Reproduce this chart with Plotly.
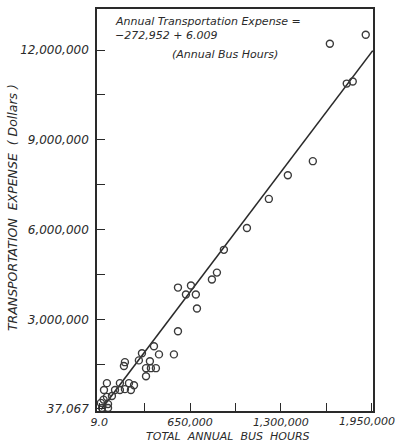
import plotly.graph_objects as go

# Observed points (annual bus hours, annual transportation expense in dollars)
bus_hours = [
    1651000, 1908000, 1772000, 1815000, 1529000, 1350000, 1214000, 1057000,
    892000, 842000, 806000, 563000, 656000, 620000, 691000, 699000, 563000,
    391000, 305000, 427000, 534000, 283000, 362000, 183000, 176000, 334000,
    369000, 405000, 334000,
    54000, 147000, 212000, 248000, 33000, 112000, 183000, 226000, 147000,
    54000, 90000, 11000, 62000, 19000, 30000, 62000,
]
expense = [
    12210000, 12510000, 10880000, 10950000, 8290000, 7820000, 7030000, 6060000,
    5330000, 4570000, 4340000, 4070000, 4140000, 3840000, 3840000, 3370000, 2610000,
    2110000, 1880000, 1840000, 1840000, 1640000, 1610000, 1580000, 1450000, 1380000,
    1380000, 1380000, 1110000,
    880000, 880000, 880000, 810000, 650000, 650000, 680000, 650000, 650000,
    420000, 450000, 220000, 180000, 50000, 330000, 50000,
]

# Fitted line as drawn (end points)
fit_hours = [13000, 1958000]
fit_expense = [0, 11980000]

# Tick positions and labels
x_tickvals = [9, 325000, 650000, 975000, 1300000, 1625000, 1950000]
x_ticktext = ["9.0", "", "650,000", "", "1,300,000", "", ""]
x_last_label = "1,950,000"
y_tickvals = [37067, 1500000, 3000000, 4500000, 6000000, 7500000, 9000000, 10500000, 12000000]
y_ticktext = ["37,067", "", "3,000,000", "", "6,000,000", "", "9,000,000", "", "12,000,000"]

ink = "#2a2a2a"
fam = "DejaVu Sans"

fig = go.Figure()
fig.add_trace(go.Scatter(
    x=fit_hours, y=fit_expense, mode="lines",
    line=dict(color=ink, width=1.6), hoverinfo="skip", showlegend=False,
))
fig.add_trace(go.Scatter(
    x=bus_hours, y=expense, mode="markers",
    marker=dict(symbol="circle-open", size=7, color="#3a3a3a", line=dict(width=1.4)),
    showlegend=False,
))

fig.update_layout(
    width=395, height=445,
    margin=dict(l=97, r=22, t=7, b=34),
    paper_bgcolor="white", plot_bgcolor="white",
    font=dict(family=fam, color=ink, style="italic"),
    xaxis=dict(
        range=[-17000, 1960000], showgrid=False, zeroline=False,
        showline=True, linecolor=ink, linewidth=1.5, mirror=True,
        ticks="inside", ticklen=8, tickwidth=1.3, tickcolor=ink,
        tickvals=x_tickvals, ticktext=x_ticktext,
        tickfont=dict(size=11, family=fam, style="italic", color=ink),
        ticklabelstandoff=0,
    ),
    yaxis=dict(
        range=[-50000, 13370000], showgrid=False, zeroline=False,
        showline=True, linecolor=ink, linewidth=1.5, mirror=True,
        ticks="inside", ticklen=8, tickwidth=1.3, tickcolor=ink,
        tickvals=y_tickvals, ticktext=y_ticktext,
        tickfont=dict(size=12, family=fam, style="italic", color=ink),
        ticklabelstandoff=4,
    ),
)

afont = dict(family=fam, size=11, color=ink, style="italic")
fig.add_annotation(xref="paper", yref="paper", x=0.058, y=0.968, xanchor="left", yanchor="middle",
                   text="Annual Transportation Expense =", showarrow=False, font=afont)
fig.add_annotation(xref="paper", yref="paper", x=0.058, y=0.935, xanchor="left", yanchor="middle",
                   text="\u2212272,952 + 6.009", showarrow=False, font=afont)
fig.add_annotation(xref="paper", yref="paper", x=0.2645, y=0.886, xanchor="left", yanchor="middle",
                   text="(Annual Bus Hours)", showarrow=False, font=afont)
fig.add_annotation(xref="x", yref="paper", x=x_tickvals[-1], xshift=-5, y=-0.0272,
                   xanchor="center", yanchor="middle", text=x_last_label, showarrow=False,
                   font=dict(family=fam, size=11, color=ink, style="italic"))
fig.add_annotation(xref="paper", yref="paper", x=0.476, y=-0.064, xanchor="center", yanchor="middle",
                   text="TOTAL\u00a0 ANNUAL\u00a0 BUS\u00a0 HOURS", showarrow=False,
                   font=dict(family=fam, size=11, color=ink, style="italic"))
fig.add_annotation(xref="paper", yref="paper", x=-0.304, y=0.505, xanchor="center", yanchor="middle",
                   text="TRANSPORTATION\u00a0 EXPENSE\u00a0 ( Dollars )", textangle=-90, showarrow=False,
                   font=dict(family=fam, size=12.5, color=ink, style="italic"))

fig.write_html("out.html")
